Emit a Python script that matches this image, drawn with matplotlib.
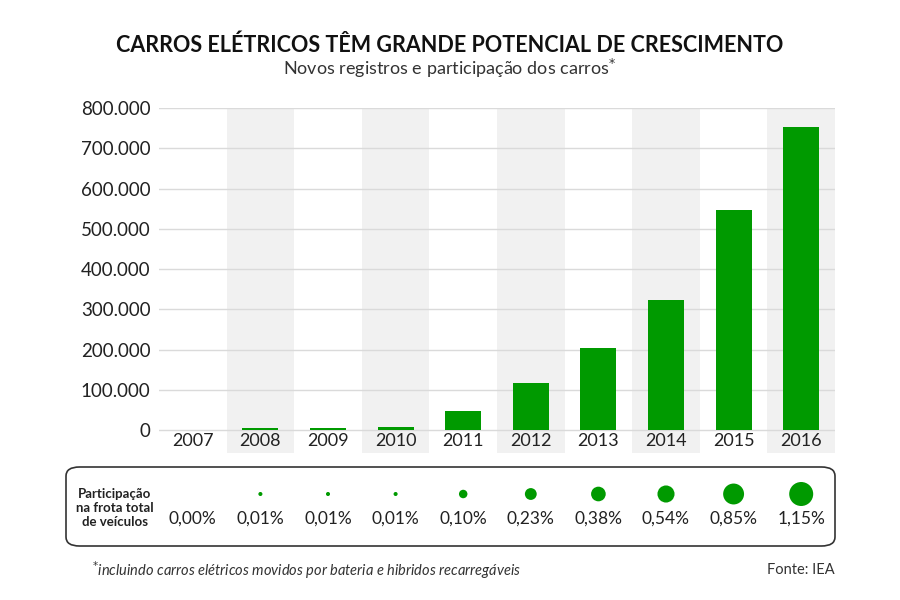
import matplotlib
matplotlib.use("Agg")
import matplotlib.pyplot as plt
from matplotlib.patches import FancyBboxPatch
import numpy as np

# ================= DATA =================
anos = ["2007", "2008", "2009", "2010", "2011", "2012", "2013", "2014", "2015", "2016"]
registros = [0, 4000, 4000, 7000, 47000, 118000, 205000, 324000, 547000, 753000]
participacao = [0.00, 0.01, 0.01, 0.01, 0.10, 0.23, 0.38, 0.54, 0.85, 1.15]
participacao_txt = ["0,00%", "0,01%", "0,01%", "0,01%", "0,10%", "0,23%", "0,38%", "0,54%", "0,85%", "1,15%"]
yticks = [0, 100000, 200000, 300000, 400000, 500000, 600000, 700000, 800000]
ytick_labels = ["0", "100.000", "200.000", "300.000", "400.000", "500.000", "600.000", "700.000", "800.000"]

# ================= STYLE =================
plt.rcParams["font.family"] = ["Lato", "DejaVu Sans"]
VERDE = "#009a00"
TEXTO = "#222222"
W, H = 900, 600

fig = plt.figure(figsize=(9, 6), dpi=100)

def fx(px):
    return px / W

def fy(py):
    return 1 - py / H

# ================= BAR CHART =================
x_left, x_right = 159, 835
y_top, y_bot = 108, 453
ax = fig.add_axes([fx(x_left), fy(y_bot), fx(x_right - x_left), (y_bot - y_top) / H])
x = np.arange(len(anos))
ax.set_xlim(-0.5, len(anos) - 0.5)
ax.set_ylim(-57000, 800000)

for i in x:
    if i % 2 == 1:
        ax.axvspan(i - 0.5, i + 0.5, color="#f1f1f1", lw=0, zorder=0)

for t in yticks:
    ax.axhline(t, color="#dadada", lw=1, zorder=1)

ax.bar(x, registros, width=0.53, color=VERDE, zorder=2)

ax.set_yticks(yticks)
ax.set_yticklabels(ytick_labels, fontsize=13.5, color=TEXTO)
ax.tick_params(axis="y", length=0, pad=6)
ax.set_xticks([])
for s in ax.spines.values():
    s.set_visible(False)

for i, a in enumerate(anos):
    ax.text(i, -28000, a, ha="center", va="center", fontsize=13, color=TEXTO)

# ================= TITLE =================
fig.text(0.5, fy(45), "CARROS ELÉTRICOS TÊM GRANDE POTENCIAL DE CRESCIMENTO",
         ha="center", va="center", fontsize=15.5, fontweight="bold", color="#111111")
fig.text(0.5, fy(68), "Novos registros e participação dos carros$^{*}$",
         ha="center", va="center", fontsize=13, color="#333333")

# ================= PARTICIPATION BOX =================
box = FancyBboxPatch((fx(66), fy(546)), fx(835 - 66), (546 - 467) / H,
                     boxstyle="round,pad=0,rounding_size=0.015",
                     transform=fig.transFigure, fc="white", ec="#333333", lw=1.2, zorder=-1)
fig.add_artist(box)

bx = fig.add_axes([fx(x_left), fy(546), fx(x_right - x_left), (546 - 467) / H])
bx.set_xlim(-0.5, len(anos) - 0.5)
bx.set_ylim(546, 467)
bx.axis("off")

diam = [2 + 22 * np.sqrt(p / 1.15) if p > 0 else 0 for p in participacao]
sizes = [(d * 0.72) ** 2 for d in diam]
bx.scatter(x, [494] * len(x), s=sizes, color=VERDE, lw=0, zorder=3)
for i, t in enumerate(participacao_txt):
    bx.text(i, 519, t, ha="center", va="center", fontsize=12.5, color=TEXTO)

fig.text(fx(115), fy(508), "Participação\nna frota total\nde veículos", ha="center", va="center",
         fontsize=9.5, fontweight="bold", color=TEXTO, linespacing=1.25)

# ================= FOOTER =================
fig.text(fx(92), fy(570), "$^{*}$incluindo carros elétricos movidos por bateria e hibridos recarregáveis",
         ha="left", va="center", fontsize=10.5, style="italic", color="#333333")
fig.text(fx(835), fy(570), "Fonte: IEA", ha="right", va="center", fontsize=10.5, color="#333333")

plt.savefig("out.png", dpi=100)
